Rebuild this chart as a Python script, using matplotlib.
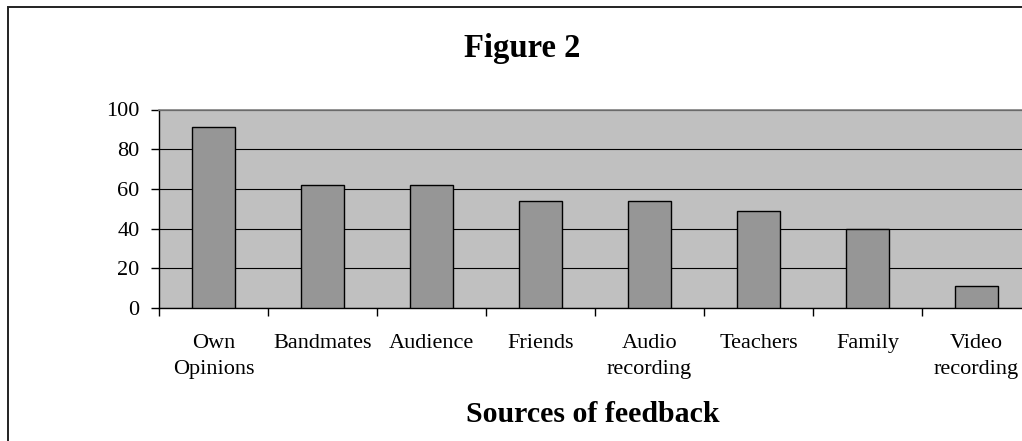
import matplotlib
matplotlib.use("Agg")
import matplotlib.pyplot as plt
from matplotlib.patches import Rectangle

categories = ["Own\nOpinions", "Bandmates", "Audience", "Friends",
              "Audio\nrecording", "Teachers", "Family", "Video\nrecording"]
values = [91, 62, 62, 54, 54, 49, 40, 11]
yticks = [0, 20, 40, 60, 80, 100]
title = "Figure 2"
xlabel = "Sources of feedback"

plt.rcParams['font.family'] = ['Liberation Serif', 'DejaVu Serif']

W, H = 1022, 441
fig = plt.figure(figsize=(W / 100, H / 100), dpi=100)
fig.patch.set_facecolor('white')

# outer chart frame (extends beyond the cropped image on right/bottom)
fig.patches.append(Rectangle((7.5 / W, -0.1), 1.2, 1 - 6.5 / H + 0.1,
                             transform=fig.transFigure, fill=False,
                             edgecolor='#222222', linewidth=1.4, zorder=0))

left, right = 159 / W, 1031 / W
bottom, top = 1 - 308 / H, 1 - 109.5 / H
ax = fig.add_axes([left, bottom, right - left, top - bottom])
ax.set_facecolor('#C0C0C0')

x = list(range(len(values)))
ax.bar(x, values, width=0.4, color='#969696', edgecolor='black',
       linewidth=1.0, zorder=3)

ax.set_xlim(-0.5, len(values) - 0.5)
ax.set_ylim(0, 100)
ax.set_yticks(yticks)
ax.set_yticklabels([str(v) for v in yticks], fontsize=16)
ax.yaxis.grid(True, color='black', linewidth=0.8)
ax.set_axisbelow(True)

ax.set_xticks([i - 0.5 for i in range(len(values) + 1)])
ax.set_xticklabels([''] * (len(values) + 1))
ax.set_xticks(x, minor=True)
ax.set_xticklabels(categories, minor=True, fontsize=16, linespacing=1.45)
ax.tick_params(axis='x', which='major', length=6, width=1, direction='out', color='black')
ax.tick_params(axis='x', which='minor', length=0, pad=19)
ax.tick_params(axis='y', length=6, width=1, direction='out', pad=8)

ax.spines['top'].set_color('#808080')
ax.spines['top'].set_linewidth(1.2)
ax.spines['right'].set_visible(False)
ax.spines['left'].set_color('black')
ax.spines['bottom'].set_color('black')
ax.spines['left'].set_linewidth(1)
ax.spines['bottom'].set_linewidth(1)

fig.text(522 / W, 1 - 48 / H, title, ha='center', va='center',
         fontsize=23.5, fontweight='bold')
ax.set_xlabel(xlabel, fontsize=21.5, fontweight='bold', labelpad=0)
ax.xaxis.set_label_coords(((465 + 720) / 2 / W - left) / (right - left),
                          (1 - 414 / H - bottom) / (top - bottom))
ax.xaxis.label.set_verticalalignment('center')

fig.savefig("out.png", dpi=100)
